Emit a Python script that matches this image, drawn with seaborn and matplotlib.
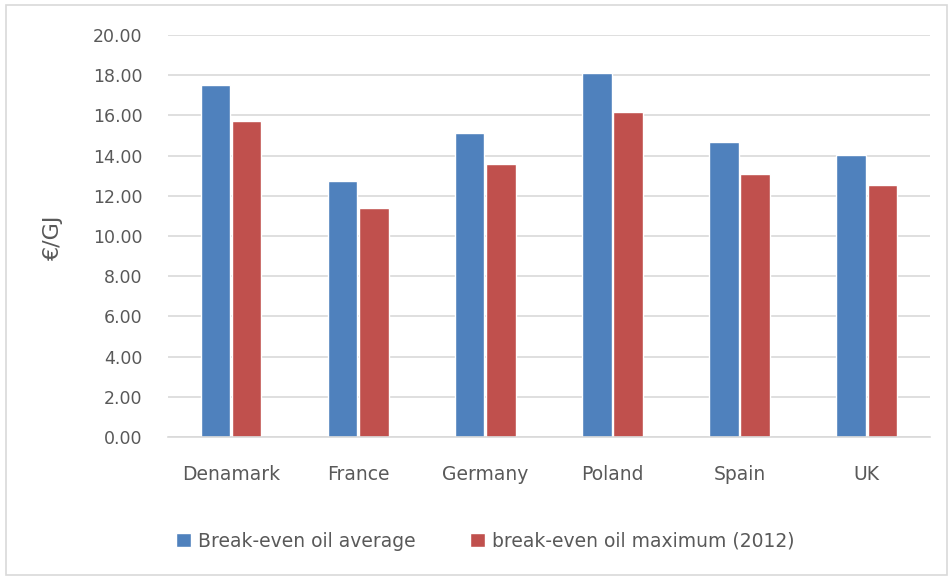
import matplotlib
matplotlib.use("Agg")
import matplotlib.pyplot as plt
import seaborn as sns
import pandas as pd
from matplotlib.patches import Rectangle

countries = ["Denamark", "France", "Germany", "Poland", "Spain", "UK"]
break_even_avg = [17.50, 12.75, 15.12, 18.10, 14.68, 14.03]
break_even_max = [15.72, 11.40, 13.58, 16.17, 13.08, 12.54]
series_names = ["Break-even oil average", "break-even oil maximum (2012)"]
y_ticks = [0, 2, 4, 6, 8, 10, 12, 14, 16, 18, 20]

df = pd.DataFrame({
    "country": countries * 2,
    "value": break_even_avg + break_even_max,
    "series": [series_names[0]] * len(countries) + [series_names[1]] * len(countries),
})

sns.set_theme(style="white")
plt.rcParams["font.family"] = ["DejaVu Sans"]
text_color = "#595959"
grid_color = "#d9d9d9"

fig = plt.figure(figsize=(9.53, 5.77), dpi=100)
ax = fig.add_axes([0.176, 0.2426, 0.8, 0.6966])

sns.barplot(data=df, x="country", y="value", hue="series",
            palette=["#4F81BD", "#C0504D"], width=0.49, gap=0.06,
            saturation=1, ax=ax, legend=True)

ax.set_ylim(0, 20)
ax.set_xlim(-0.5, 5.5)
ax.set_yticks(y_ticks)
ax.set_yticklabels([f"{t:.2f}" for t in y_ticks])
ax.yaxis.grid(True, color=grid_color, linewidth=1.2)
ax.set_axisbelow(True)
for side in ["left", "right", "top"]:
    ax.spines[side].set_visible(False)
ax.spines["bottom"].set_color(grid_color)
ax.spines["bottom"].set_linewidth(1.2)
ax.tick_params(axis="y", length=0, pad=18, labelsize=12.5, labelcolor=text_color)
ax.tick_params(axis="x", length=0, pad=20, labelsize=13.5, labelcolor=text_color)
ax.set_xlabel("")
ax.set_ylabel("")
fig.text(53 / 953, 1 - 237 / 577, "€/GJ", rotation=90, ha="center", va="center",
         fontsize=16, color=text_color)

handles, labels = ax.get_legend_handles_labels()
ax.get_legend().remove()
fig.legend(handles, labels, loc="center", bbox_to_anchor=(0.509, 0.062), ncol=2,
           frameon=False, fontsize=13.5, labelcolor=text_color,
           handlelength=0.8, handleheight=0.8, handletextpad=0.37,
           columnspacing=2.9)

# light outer border of the chart area
fig.patches.append(Rectangle((0.006, 0.004), 0.988, 0.988, transform=fig.transFigure,
                             fill=False, edgecolor="#d9d9d9", linewidth=1.2))

fig.savefig("out.png", dpi=100)
